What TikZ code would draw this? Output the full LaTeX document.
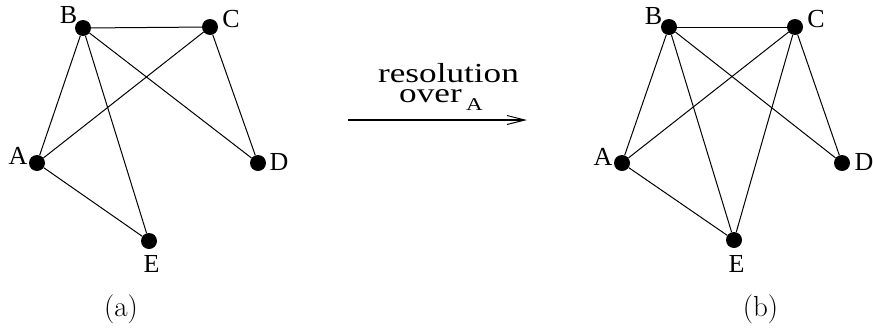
\documentclass[tikz,border=0pt]{standalone}
\usepackage{fontspec}
\newfontfamily\labelfont{Liberation Serif}
\newfontfamily\widefont[FakeStretch=1.28]{Liberation Serif}
\usetikzlibrary{arrows.meta}
\begin{document}
\begin{tikzpicture}[x=1pt,y=-1pt,vertex/.style={circle,fill=black,inner sep=0pt,minimum size=16pt},edge/.style={draw=black,line width=1pt},vname/.style={font=\labelfont\fontsize{26}{26}\selectfont,inner sep=0pt,anchor=base},caption/.style={font=\fontsize{29}{30}\selectfont,inner sep=0pt,anchor=base},steptext/.style={font=\widefont\fontsize{27.5}{28}\selectfont,inner sep=0pt}]
\useasboundingbox (0,0) rectangle (873,327);
% graph (a)
\node[vertex] (aB) at (83,28) {}; \node[vertex] (aC) at (210,27) {}; \node[vertex] (aA) at (37,163) {}; \node[vertex] (aD) at (258,163) {}; \node[vertex] (aE) at (149,241) {};
\draw[edge] (aB) -- (aC); \draw[edge] (aB) -- (aA); \draw[edge] (aB) -- (aE); \draw[edge] (aB) -- (aD); \draw[edge] (aC) -- (aA); \draw[edge] (aC) -- (aD); \draw[edge] (aA) -- (aE);
\node[vname] (aBl) at (68.5,23) {B}; \node[vname] (aCl) at (231,27) {C}; \node[vname] (aAl) at (18,164) {A}; \node[vname] (aDl) at (279,170) {D}; \node[vname] (aEl) at (151.5,272) {E};
\node[caption] (capa) at (121,316) {(a)};
% graph (b)
\node[vertex] (bB) at (669,27) {}; \node[vertex] (bC) at (795,27) {}; \node[vertex] (bA) at (622,163) {}; \node[vertex] (bD) at (842,163) {}; \node[vertex] (bE) at (734,240) {};
\draw[edge] (bB) -- (bC); \draw[edge] (bB) -- (bA); \draw[edge] (bB) -- (bE); \draw[edge] (bB) -- (bD); \draw[edge] (bC) -- (bA); \draw[edge] (bC) -- (bD); \draw[edge] (bC) -- (bE); \draw[edge] (bA) -- (bE);
\node[vname] (bBl) at (653.5,24) {B}; \node[vname] (bCl) at (816,27) {C}; \node[vname] (bAl) at (603,165) {A}; \node[vname] (bDl) at (864,170) {D}; \node[vname] (bEl) at (736.5,272) {E};
\node[caption] (capb) at (760.5,316) {(b)};
% the step between them
\coordinate (arrStart) at (348,120); \coordinate (arrEnd) at (527,120);
\draw[line width=1.2pt,-{Straight Barb[length=18pt,width=9pt,line width=1pt]}] (arrStart) -- (arrEnd);
\node[steptext,anchor=base,text depth=0pt] (res) at (448.5,82) {resolution};
\node[steptext,anchor=base west] (over) at (399,102) {over};
\node[steptext,anchor=base west,font=\widefont\fontsize{18}{18}\selectfont] (overA) at (466,110) {A};
\end{tikzpicture}
\end{document}
